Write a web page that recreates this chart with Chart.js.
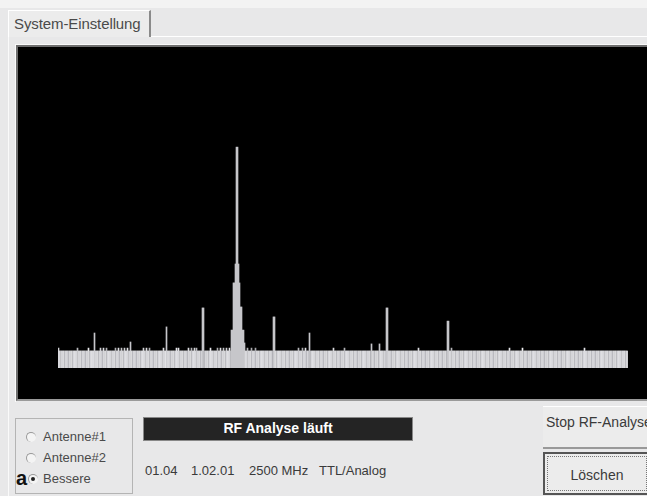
<!DOCTYPE html>
<html><head><meta charset="utf-8">
<script src="https://cdn.jsdelivr.net/npm/chart.js@4.4.1/dist/chart.umd.min.js"></script>
<style>
html,body{margin:0;padding:0;}
body{width:647px;height:496px;position:relative;overflow:hidden;background:#e8e8e9;font-family:"Liberation Sans",Arial,sans-serif;color:#333;}
.abs{position:absolute;}
#topstrip{left:0;top:0;width:647px;height:8px;background:#f3f3f3;}
#tab{left:8px;top:10px;width:143px;height:27px;background:#ececec;border-left:1px solid #fff;border-top:1px solid #fff;border-right:2px solid #8a8a8a;box-sizing:border-box;font-size:15px;line-height:26px;padding-left:5px;color:#4a4a4a;letter-spacing:-0.1px;}
#tabline{left:151px;top:36px;width:497px;height:1px;background:#fff;}
#panelleft{left:8px;top:37px;width:1px;height:459px;background:#fafafa;}
#frame{left:15px;top:44px;width:640px;height:358px;border-top:1px solid #fafafa;border-left:1px solid #fafafa;box-sizing:border-box;}
#scope{left:16px;top:45px;width:640px;height:356px;border-top:2px solid #6e6e6e;border-left:2px solid #6e6e6e;border-bottom:2px solid #9a9a9a;box-sizing:border-box;background:#000;}
#chartwrap{left:18px;top:47px;width:629px;height:352px;}
#group{left:15px;top:418px;width:118px;height:76px;border:1px solid #b4b4b4;box-sizing:border-box;}
.radio{font-size:13px;color:#4a4a4a;}
.dot{width:10px;height:10px;border-radius:50%;background:#f4f4f4;border-top:1px solid #999;border-left:1px solid #999;box-sizing:border-box;}
#status{left:143px;top:417px;width:270px;height:24px;background:#242424;border:1px solid #888;box-sizing:border-box;color:#fff;font-weight:bold;font-size:14px;text-align:center;line-height:21px;}
.info{font-size:13px;color:#3a3a3a;top:463px;}
#stop{left:543px;top:406px;width:110px;height:43px;background:#ececec;border-top:1px solid #fff;border-bottom:2px solid #999;box-sizing:border-box;font-size:14px;padding-left:3px;line-height:30px;color:#3a3a3a;}
#loesch{left:543px;top:452px;width:110px;height:43px;background:#ececec;border:2px solid #555;box-sizing:border-box;}
#focus{left:547px;top:456px;width:100px;height:35px;border:1px dotted #777;box-sizing:border-box;font-size:14px;text-align:center;line-height:36px;color:#3a3a3a;}
</style></head>
<body>
<div class="abs" id="topstrip"></div>
<div class="abs" id="tab">System-Einstellung</div>
<div class="abs" id="tabline"></div>
<div class="abs" id="panelleft"></div>
<div class="abs" id="frame"></div>
<div class="abs" id="scope"></div>
<div class="abs" id="chartwrap"><canvas id="c" width="629" height="352"></canvas></div>

<div class="abs" id="group"></div>
<div class="abs dot" style="left:26px;top:432px;"></div>
<div class="abs radio" style="left:43px;top:429px;">Antenne#1</div>
<div class="abs dot" style="left:26px;top:453px;"></div>
<div class="abs radio" style="left:43px;top:450px;">Antenne#2</div>
<div class="abs" style="left:16px;top:467px;font-size:20px;font-weight:bold;color:#111;">a</div>
<div class="abs dot" style="left:28px;top:474px;background:#f4f4f4;"></div>
<div class="abs" style="left:31px;top:477px;width:4px;height:4px;border-radius:50%;background:#222;"></div>
<div class="abs radio" style="left:43px;top:471px;">Bessere</div>

<div class="abs" id="status">RF Analyse läuft</div>
<div class="abs info" style="left:145px;">01.04</div>
<div class="abs info" style="left:191px;">1.02.01</div>
<div class="abs info" style="left:249px;">2500 MHz</div>
<div class="abs info" style="left:319px;">TTL/Analog</div>

<div class="abs" id="stop">Stop RF-Analyse</div>
<div class="abs" id="loesch"></div>
<div class="abs" id="focus">Löschen</div>

<script>
// Spectrum: 570 frequency bins (level scale 0..100, display top = 100)
const binCount = 570;
const noiseFloor = 5.3;
// small bumps on the noise floor: [bin, level]
const floorBumps = [[0,6.2],[19,6.2],[30,6.2],[42,6.2],[45,6.2],[48,6.2],[57,6.2],[60,6.2],[63,6.2],[66,6.2],[69,6.2],
  [85,6.2],[88,6.2],[91,6.2],[105,6.2],[118,6.2],[120,6.2],[130,6.2],[133,6.2],[136,6.2],[138,6.2],[152,6.2],[159,6.2],
  [162,6.2],[165,6.2],[168,6.2],[171,6.2],[189,6.2],[193,6.2],[197,6.2],[240,6.2],[244,6.2],[247,6.2],[275,6.2],
  [286,6.2],[360,6.2],[393,6.2],[451,6.2],[464,6.2],[526,6.2]];
// carriers: [bin, level]
const carriers = [[36,10.9],[72,8.1],[108,12.8],[144,18.7],[145,18.7],
  [173,11.8],[174,11.8],[175,26.5],[176,26.5],[177,32.4],[178,68.8],[179,68.8],[180,32.4],[181,26.5],
  [182,19.0],[183,19.0],[184,11.8],[185,11.8],[186,7.8],
  [215,15.9],[216,15.9],[251,10.9],[313,7.5],[321,7.5],[328,18.7],[329,18.7],[389,14.6],[390,14.6]];
// gray shades of the trace stripes (cycled)
const stripeShades = ['#d4d4d8','#e6e6ea','#b6b6ba','#dcdce0','#c8c8cc','#f0f0f2','#acacb0','#d8d8dc','#cfcfd3','#e2e2e6','#a8a8ac','#dedee2','#c4c4c8','#ececee','#b2b2b6','#d0d0d4','#e4e4e8'];

const labels = [];
const levels = [];
for (let i = 0; i < binCount; i++) { labels.push(i); levels.push(noiseFloor); }
floorBumps.forEach(([b, v]) => { levels[b] = Math.max(levels[b], v); });
carriers.forEach(([b, v]) => { levels[b] = v; });
const colors = levels.map((v, i) => v > 7 ? '#c6c6ca' : stripeShades[i % stripeShades.length]);

new Chart(document.getElementById('c'), {
  type: 'bar',
  data: { labels: labels, datasets: [{ data: levels, backgroundColor: colors, borderWidth: 0, barPercentage: 1, categoryPercentage: 1 }] },
  options: {
    responsive: false, animation: false,
    layout: { padding: { left: 40, right: 19, top: 0, bottom: 31 } },
    plugins: { legend: { display: false }, tooltip: { enabled: false } },
    scales: {
      x: { display: false, offset: true, grid: { display: false } },
      y: { display: false, min: 0, max: 100, grid: { display: false } }
    }
  }
});
</script>
</body></html>
